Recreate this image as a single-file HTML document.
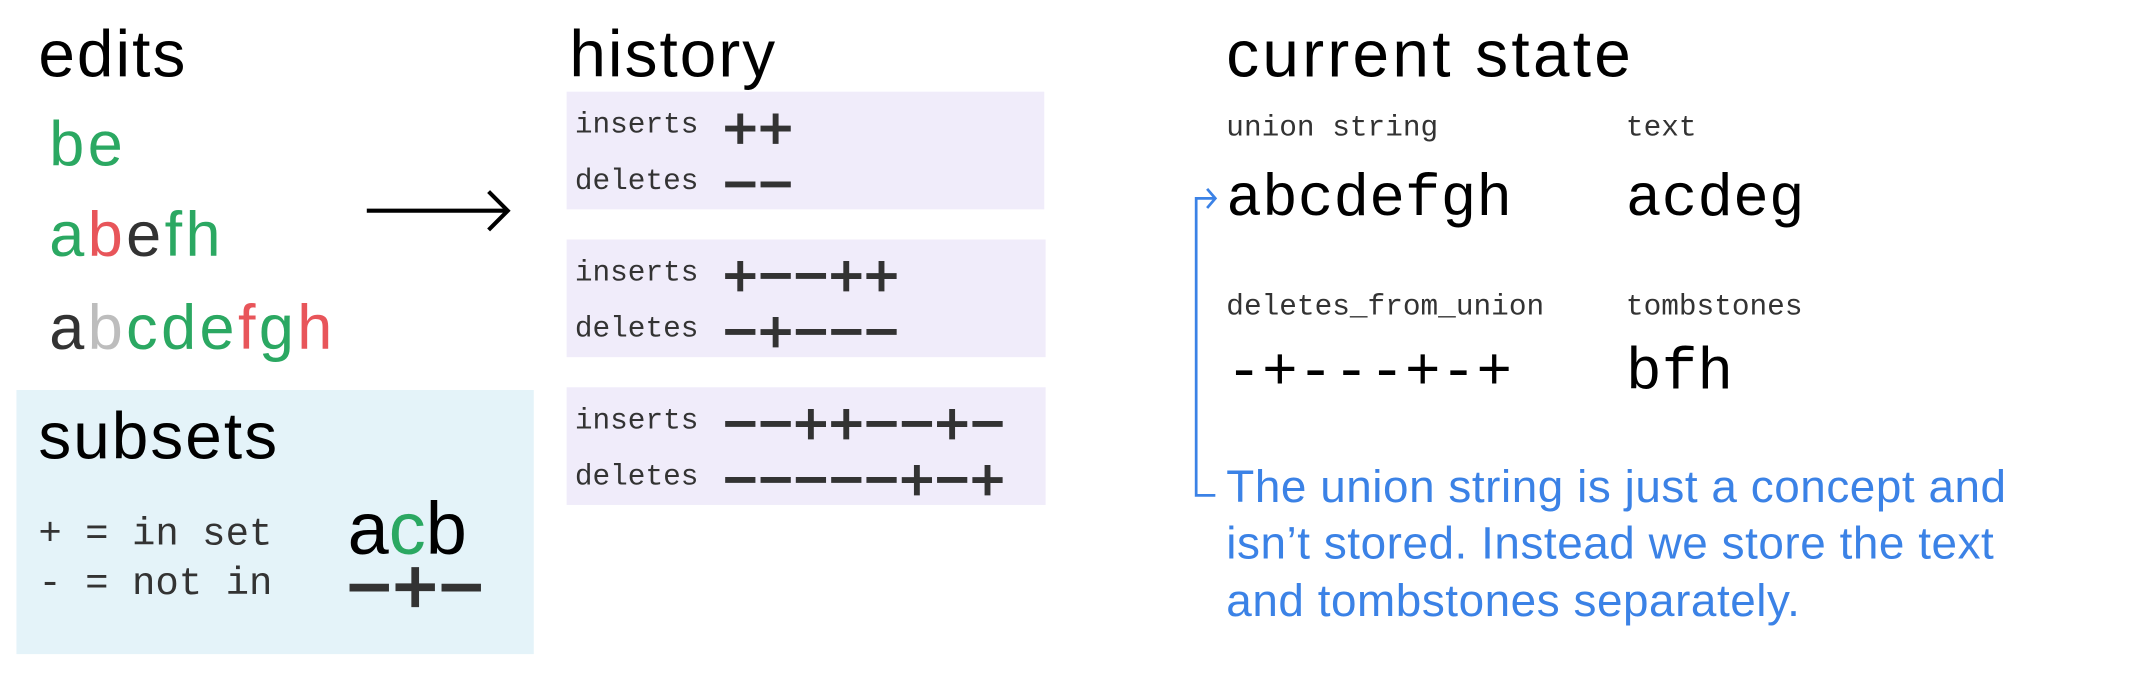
<!DOCTYPE html>
<html><head><meta charset="utf-8"><style>
html,body{margin:0;padding:0;background:#fff;}
body{width:2146px;height:676px;overflow:hidden;position:relative;}
#s{position:absolute;left:0;top:0;width:1568px;height:494px;transform:scale(1.36862,1.3684);transform-origin:0 0;}
.t{position:absolute;white-space:nowrap;line-height:1;}
.sans{font-family:"Liberation Sans",sans-serif;}
.mono{font-family:"Liberation Mono",monospace;}
.h{font-size:48px;color:#000;letter-spacing:1.5px;}
.box{position:absolute;background:#f0ecfa;}
.g{color:#2ba862}.r{color:#e8555a}.k{color:#333}.l{color:#bdbdbd}
.lab{font-size:21.5px;color:#333;}
.sym{font-size:43px;color:#333;-webkit-text-stroke:1.2px #333;}
.blue{color:#3b82e6;font-size:33.5px;letter-spacing:0.4px;}
</style></head><body><div id="s">
<div class="t sans h" style="left:28px;top:17px;">edits</div>
<div class="t sans h" style="left:416px;top:17px;">history</div>
<div class="t sans h" style="left:896px;top:17px;letter-spacing:2.4px;">current state</div>

<div class="t sans" style="left:36px;top:82px;font-size:46px;letter-spacing:2.5px;"><span class="g">be</span></div>
<div class="t sans" style="left:36px;top:148px;font-size:46px;letter-spacing:2.5px;"><span class="g">a</span><span class="r">b</span><span class="k">e</span><span class="g">fh</span></div>
<div class="t sans" style="left:36px;top:216px;font-size:46px;letter-spacing:2.5px;"><span class="k">a</span><span class="l">b</span><span class="g">cde</span><span class="r">f</span><span class="g">g</span><span class="r">h</span></div>

<svg style="position:absolute;left:0;top:0" width="1568" height="494">
<line x1="268" y1="154" x2="370" y2="154" stroke="#000" stroke-width="3"/>
<polyline points="357,140 371,154 357,168" fill="none" stroke="#000" stroke-width="3"/>
<polyline points="888,145 874,145 874,362 888,362" fill="none" stroke="#3b82e6" stroke-width="2"/>
<polyline points="882,138 888,145 882,152" fill="none" stroke="#3b82e6" stroke-width="2"/>
</svg>

<div class="box" style="left:12px;top:285px;width:378px;height:193px;background:#e4f3f9;"></div>
<div class="t sans h" style="left:28px;top:296px;">subsets</div>
<div class="t mono" style="left:28px;top:377px;font-size:28.5px;color:#333;">+ = in set</div>
<div class="t mono" style="left:28px;top:413px;font-size:28.5px;color:#333;">- = not in</div>
<div class="t sans" style="left:254px;top:360px;font-size:54px;color:#000;">a<span class="g">c</span>b</div>
<div class="t mono" style="left:253px;top:405px;font-size:56px;color:#333;-webkit-text-stroke:1.6px #333;">−+−</div>

<div class="box" style="left:414px;top:67px;width:349px;height:86px;"></div>
<div class="box" style="left:414px;top:175px;width:350px;height:86px;"></div>
<div class="box" style="left:414px;top:283px;width:350px;height:86px;"></div>
<div class="t mono lab" style="left:420px;top:82px;">inserts</div>
<div class="t mono sym" style="left:528px;top:75px;">++</div>
<div class="t mono lab" style="left:420px;top:123px;">deletes</div>
<div class="t mono sym" style="left:528px;top:116px;">−−</div>
<div class="t mono lab" style="left:420px;top:190px;">inserts</div>
<div class="t mono sym" style="left:528px;top:183px;">+−−++</div>
<div class="t mono lab" style="left:420px;top:231px;">deletes</div>
<div class="t mono sym" style="left:528px;top:224px;">−+−−−</div>
<div class="t mono lab" style="left:420px;top:298px;">inserts</div>
<div class="t mono sym" style="left:528px;top:291px;">−−++−−+−</div>
<div class="t mono lab" style="left:420px;top:339px;">deletes</div>
<div class="t mono sym" style="left:528px;top:332px;">−−−−−+−+</div>

<div class="t mono lab" style="left:896px;top:84px;">union string</div>
<div class="t mono lab" style="left:1188px;top:84px;">text</div>
<div class="t mono" style="left:896px;top:125px;font-size:43.5px;color:#000;">abcdefgh</div>
<div class="t mono" style="left:1188px;top:125px;font-size:43.5px;color:#000;">acdeg</div>
<div class="t mono lab" style="left:896px;top:215px;">deletes_from_union</div>
<div class="t mono lab" style="left:1188px;top:215px;">tombstones</div>
<div class="t mono" style="left:896px;top:252px;font-size:43.5px;color:#000;">-+---+-+</div>
<div class="t mono" style="left:1188px;top:252px;font-size:43.5px;color:#000;">bfh</div>

<div class="t sans blue" style="left:896px;top:340px;">The union string is just a concept and</div>
<div class="t sans blue" style="left:896px;top:381px;">isn’t stored. Instead we store the text</div>
<div class="t sans blue" style="left:896px;top:423px;">and tombstones separately.</div>
</div></body></html>
